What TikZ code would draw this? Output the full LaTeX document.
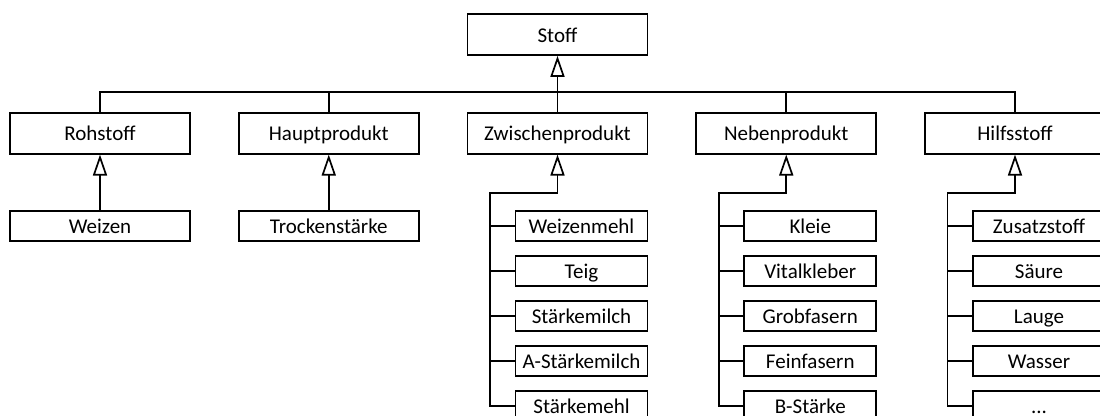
\documentclass[tikz,border=0pt]{standalone}
\usepackage{fontspec}
\setmainfont{Carlito}
\usetikzlibrary{arrows.meta}
\begin{document}
\begin{tikzpicture}[x=1pt,y=-1pt,
  line width=1.7pt,
  box/.style={draw, line width=1.7pt, inner sep=0pt, minimum width=180pt, minimum height=41pt,
    text height=16pt, text depth=0.5pt, font=\fontsize{21}{25}\selectfont},
  leafbox/.style={box, minimum height=29.5pt},
  childbox/.style={box, minimum width=132pt, minimum height=29.5pt},
  inherit/.style={-{Triangle[open, length=21pt, width=14pt, line width=1.7pt]}}
]
\clip (0,0) rectangle (1100,415);
\useasboundingbox (0,0) rectangle (1100,415);

% root and main categories
\node[box] (stoff) at (557.5,34.5) {Stoff};
\node[box] (roh)   at (100,133.2)    {Rohstoff};
\node[box] (haupt) at (328.75,133.2) {Hauptprodukt};
\node[box] (zw)    at (557.5,133.2)  {Zwischenprodukt};
\node[box] (neben) at (786.25,133.2) {Nebenprodukt};
\node[box] (hilf)  at (1015,133.2)   {Hilfsstoff};

% single subtypes
\node[leafbox] (weizen) at (100,226)    {Weizen};
\node[leafbox] (trock)  at (328.75,226) {Trockenstärke};

% Zwischenprodukt subtypes
\node[childbox] (z1) at (581.5,226) {Weizenmehl};
\node[childbox] (z2) at (581.5,271) {Teig};
\node[childbox] (z3) at (581.5,316) {Stärkemilch};
\node[childbox] (z4) at (581.5,361) {A-Stärkemilch};
\node[childbox] (z5) at (581.5,406) {Stärkemehl};

% Nebenprodukt subtypes
\node[childbox] (n1) at (810.25,226) {Kleie};
\node[childbox] (n2) at (810.25,271) {Vitalkleber};
\node[childbox] (n3) at (810.25,316) {Grobfasern};
\node[childbox] (n4) at (810.25,361) {Feinfasern};
\node[childbox] (n5) at (810.25,406) {B-Stärke};

% Hilfsstoff subtypes
\node[childbox] (h1) at (1039,226) {Zusatzstoff};
\node[childbox] (h2) at (1039,271) {Säure};
\node[childbox] (h3) at (1039,316) {Lauge};
\node[childbox] (h4) at (1039,361) {Wasser};
\node[childbox] (h5) at (1039,406) {...};

% bus joining the main categories to the root
\coordinate (bus) at (0,91.7);
\draw (roh.north) -- (roh.north |- bus) -- (hilf.north |- bus) -- (hilf.north);
\draw (haupt.north) -- (haupt.north |- bus);
\draw (neben.north) -- (neben.north |- bus);
\draw[inherit] (zw.north) -- (stoff.south);

% single inheritance arrows
\draw[inherit] (weizen.north) -- (roh.south);
\draw[inherit] (trock.north) -- (haupt.south);

% tree connectors of the subtype lists
\coordinate (zv) at (490,193.3);
\coordinate (nv) at (718.75,193.3);
\coordinate (hv) at (947.5,193.3);
\draw[inherit] (z5.west) -| (zv) -- (zw.south |- zv) -- (zw.south);
\draw[inherit] (n5.west) -| (nv) -- (neben.south |- nv) -- (neben.south);
\draw[inherit] (h5.west) -| (hv) -- (hilf.south |- hv) -- (hilf.south);
\foreach \i in {1,...,4} {
  \draw (z\i.west) -- (z\i.west -| zv);
  \draw (n\i.west) -- (n\i.west -| nv);
  \draw (h\i.west) -- (h\i.west -| hv);
}
\end{tikzpicture}
\end{document}
